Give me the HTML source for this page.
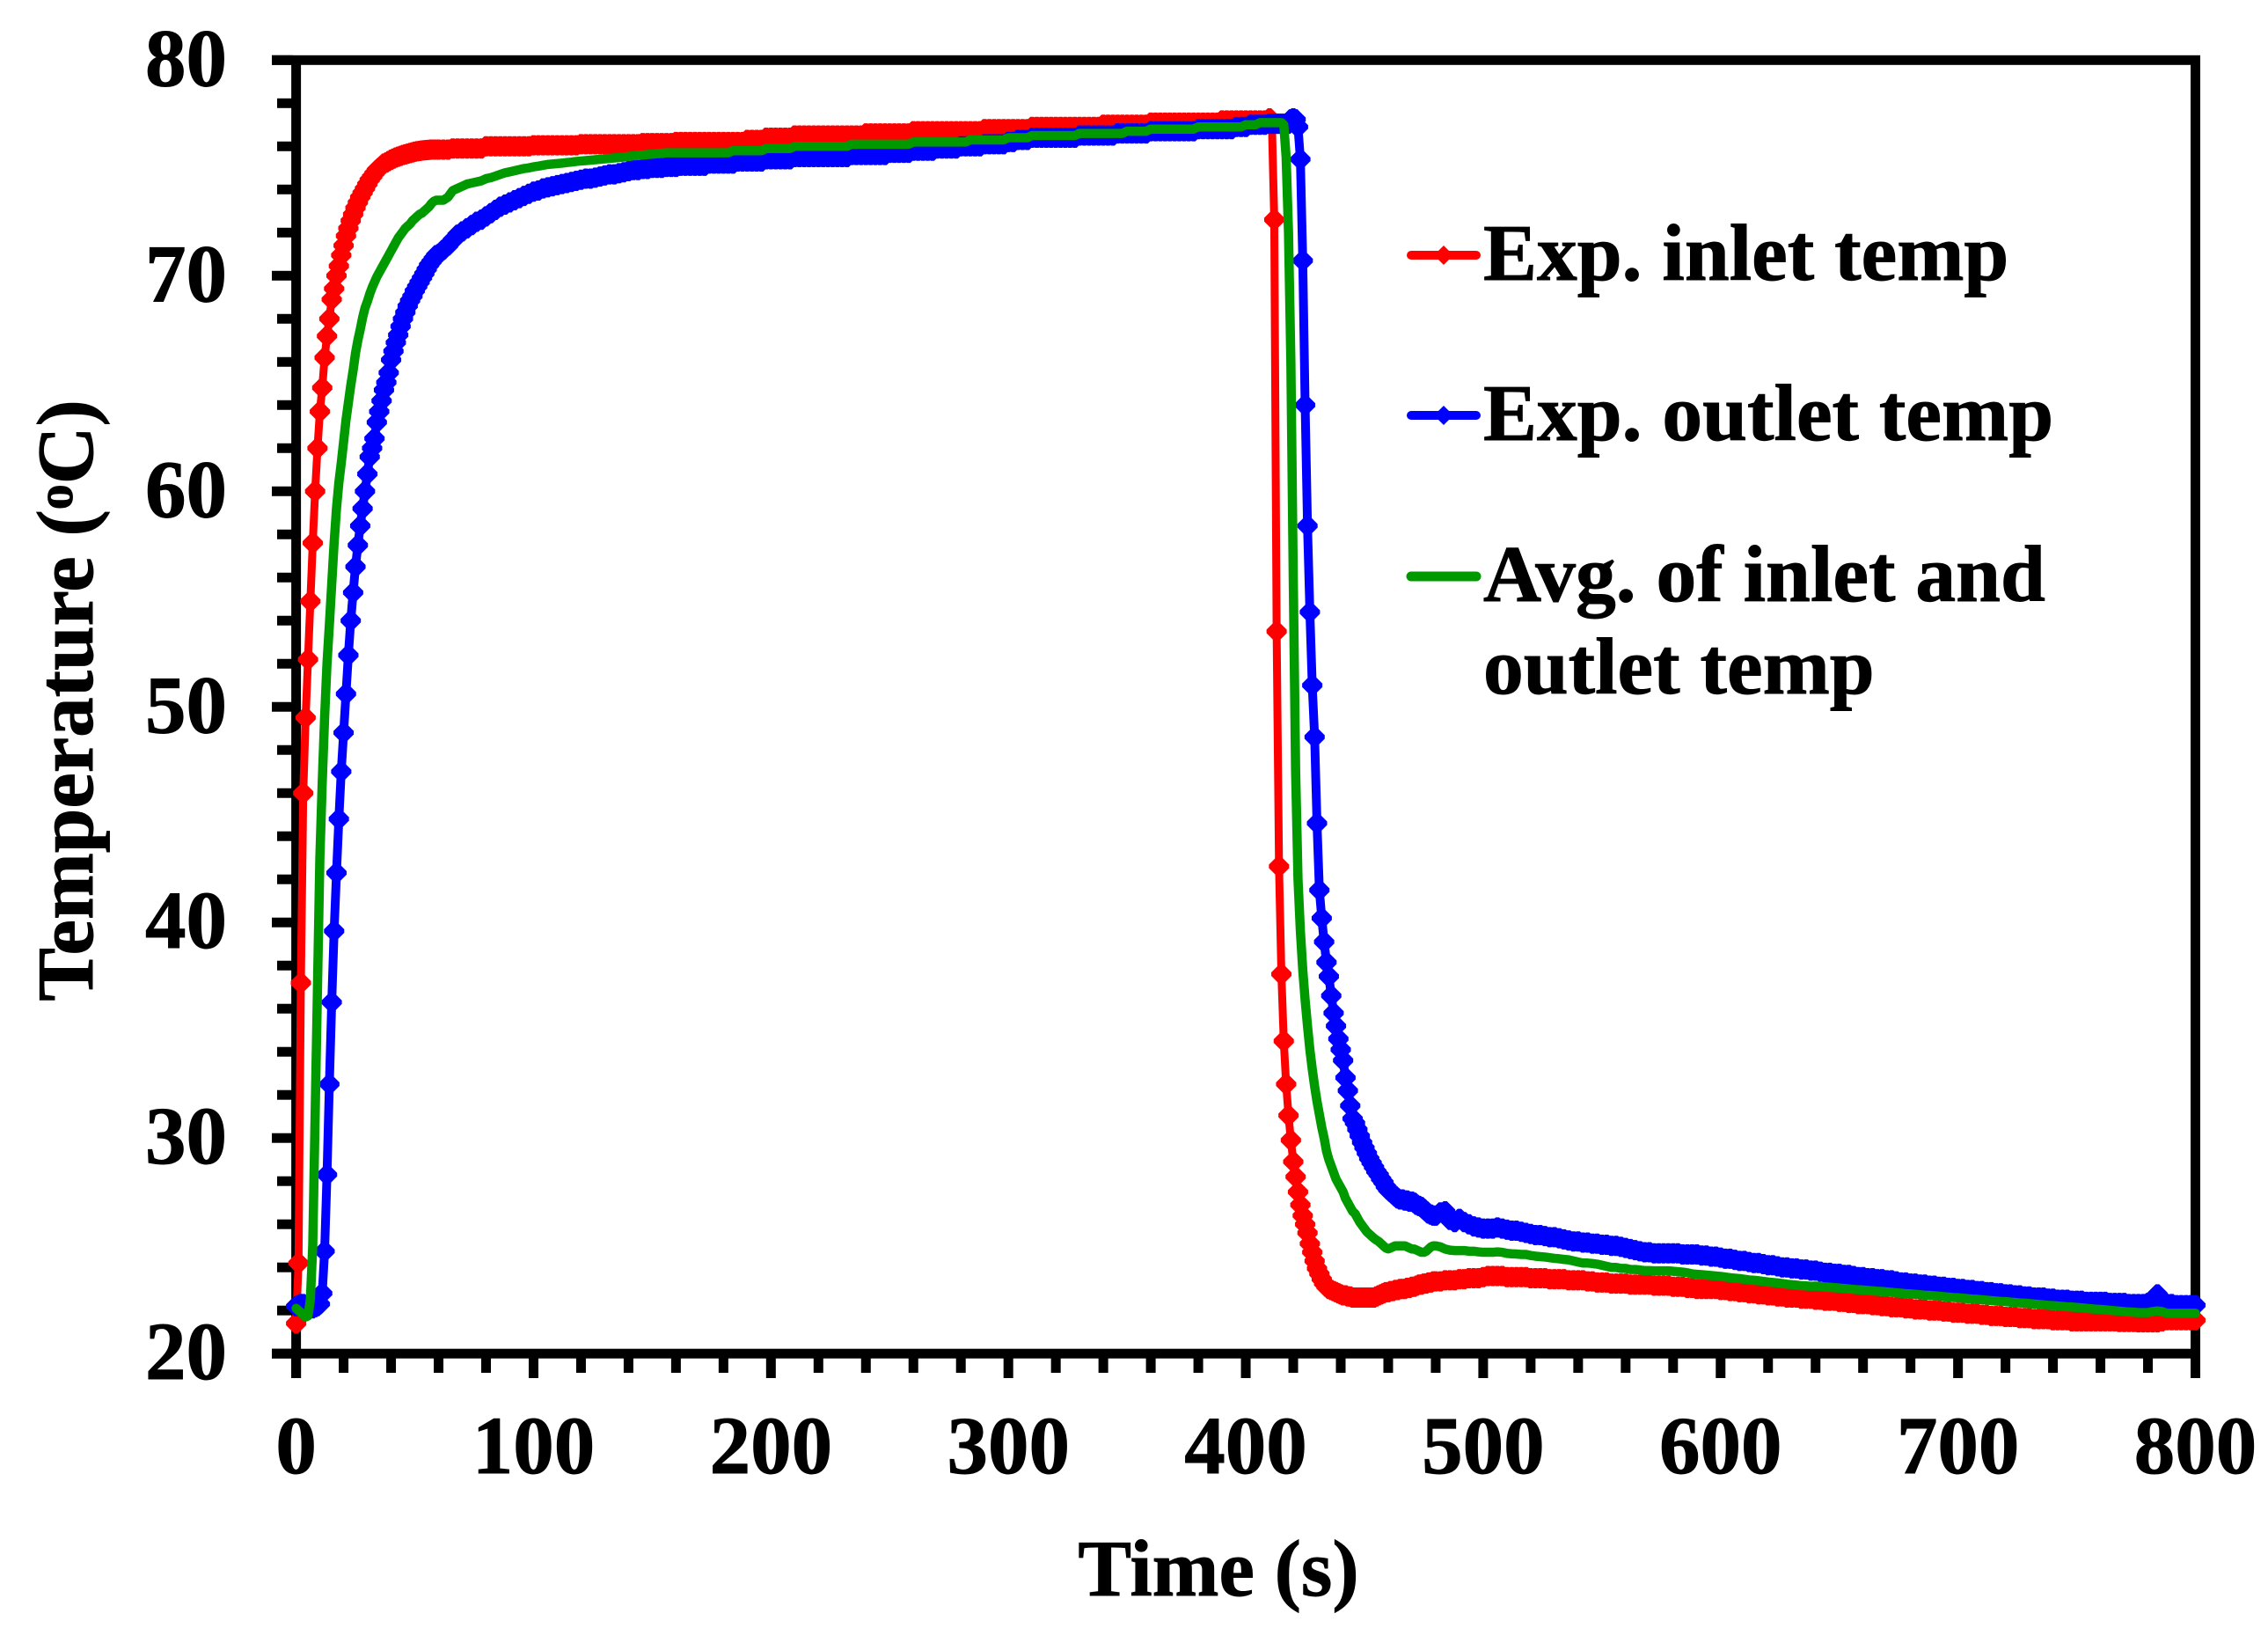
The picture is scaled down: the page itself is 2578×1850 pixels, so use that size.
<!DOCTYPE html>
<html lang="en">
<head>
<meta charset="utf-8">
<title>Temperature vs Time</title>
<style>
html,body{margin:0;padding:0;background:#fff;}
svg{display:block;}
text{font-family:"Liberation Serif",serif;font-weight:bold;fill:#000;stroke:#000;stroke-width:0.9px;}
</style>
</head>
<body>
<svg id="chart" xmlns="http://www.w3.org/2000/svg" width="2578" height="1850" viewBox="0 0 2578 1850">
<rect x="0" y="0" width="2578" height="1850" fill="#fff"/>
<g id="axes"></g>
<g id="series"></g>
<text x="1385" y="1813" font-size="91" text-anchor="middle">Time (s)</text>
<text transform="translate(105 796) rotate(-90)" font-size="91" text-anchor="middle">Temperature (<tspan font-size="58" dy="-23">o</tspan><tspan dy="23">C)</tspan></text>
<g>
<g>
<line x1="1604" y1="290" x2="1678" y2="290" stroke="#ff0000" stroke-width="10" stroke-linecap="round"/>
<polygon points="1630,290 1641,279 1652,290 1641,301" fill="#ff0000"/>
<text x="1686" y="318" font-size="91.5">Exp. inlet temp</text>
</g>
<g>
<line x1="1604" y1="472" x2="1678" y2="472" stroke="#0000ff" stroke-width="10" stroke-linecap="round"/>
<polygon points="1630,472 1641,461 1652,472 1641,483" fill="#0000ff"/>
<text x="1686" y="500" font-size="91.5">Exp. outlet temp</text>
</g>
<g>
<line x1="1604" y1="655" x2="1678" y2="655" stroke="#009900" stroke-width="11" stroke-linecap="round"/>
<text x="1686" y="683" font-size="91.5">Avg. of inlet and</text>
<text x="1686" y="788" font-size="91.5">outlet temp</text>
</g>
</g>
</svg>
<script>
const xTickLabels = [0,100,200,300,400,500,600,700,800];
const yTickLabels = [20,30,40,50,60,70,80];
const xMinorTicks = [20,40,60,80,120,140,160,180,220,240,260,280,320,340,360,380,420,440,460,480,520,540,560,580,620,640,660,680,720,740,760,780];
const yMinorTicks = [22,24,26,28,32,34,36,38,42,44,46,48,52,54,56,58,62,64,66,68,72,74,76,78];

const times = [
0,1,2,3,4,5,6,7,8,9,10,11,12,13,14,15,16,17,18,19,20,21,22,23,24,25,26,27,28,29,
30,31,32,33,34,35,36,37,38,39,40,41,42,43,44,45,46,47,48,49,50,51,52,53,54,55,56,57,58,59,
60,62,64,66,68,70,72,74,76,78,80,82,84,86,88,90,92,94,96,98,100,102,104,106,108,
110,112,114,116,118,120,122,124,126,128,130,132,134,136,138,140,142,144,146,148,150,152,154,156,158,
160,162,164,166,168,170,172,174,176,178,180,182,184,186,188,190,192,194,196,198,200,202,204,206,208,
210,212,214,216,218,220,222,224,226,228,230,232,234,236,238,240,242,244,246,248,250,252,254,256,258,
260,262,264,266,268,270,272,274,276,278,280,282,284,286,288,290,292,294,296,298,300,302,304,306,308,
310,312,314,316,318,320,322,324,326,328,330,332,334,336,338,340,342,344,346,348,350,352,354,356,358,
360,362,364,366,368,370,372,374,376,378,380,382,384,386,388,390,392,394,396,398,400,402,404,406,408,
410,411,412,413,414,415,416,417,418,419,420,421,422,423,424,425,426,427,428,429,430,431,432,433,434,435,436,437,438,439,
440,441,442,443,444,445,446,447,448,449,450,451,452,453,454,455,456,457,458,459,460,461,462,463,464,465,466,467,468,469,470,471,472,473,474,475,476,477,478,479,
480,482,484,486,488,490,492,494,496,498,500,502,504,506,508,510,512,514,516,518,
520,522,524,526,528,530,532,534,536,538,540,542,544,546,548,550,552,554,556,558,
560,562,564,566,568,570,572,574,576,578,580,582,584,586,588,590,592,594,596,598,
600,602,604,606,608,610,612,614,616,618,620,622,624,626,628,630,632,634,636,638,
640,642,644,646,648,650,652,654,656,658,660,662,664,666,668,670,672,674,676,678,
680,682,684,686,688,690,692,694,696,698,700,702,704,706,708,710,712,714,716,718,
720,722,724,726,728,730,732,734,736,738,740,742,744,746,748,750,752,754,756,758,
760,762,764,766,768,770,772,774,776,778,780,782,784,786,788,790,792,794,796,798,800
];

const inletTemp = [
21.4,24.2,37.2,46,49.5,52.2,54.9,57.6,60,62,
63.7,64.8,66.2,67.2,68,68.9,69.4,70,70.45,70.95,
71.4,71.85,72.2,72.55,72.85,73.15,73.4,73.65,73.85,74.05,
74.25,74.45,74.6,74.75,74.9,75,75.1,75.2,75.25,75.32,
75.38,75.43,75.48,75.52,75.56,75.6,75.63,75.66,75.69,75.72,
75.75,75.77,75.79,75.81,75.82,75.83,75.84,75.85,75.85,75.85,
75.85,75.85,75.85,75.9,75.9,75.9,75.9,75.9,75.9,75.9,76,76,76,76,76,76,76,76,76,76,76.05,76.05,76.05,76.05,76.05,
76.05,76.05,76.05,76.05,76.05,76.1,76.1,76.1,76.1,76.1,76.1,76.1,76.1,76.1,76.1,76.1,76.1,76.1,76.15,76.15,76.15,76.15,76.15,76.15,76.15,
76.2,76.2,76.2,76.2,76.2,76.2,76.2,76.2,76.2,76.2,76.2,76.2,76.2,76.2,76.2,76.3,76.3,76.3,76.3,76.4,76.4,76.4,76.4,76.4,76.4,
76.5,76.5,76.5,76.5,76.5,76.5,76.5,76.5,76.5,76.5,76.5,76.5,76.5,76.5,76.5,76.6,76.6,76.6,76.6,76.6,76.6,76.6,76.6,76.6,76.6,
76.7,76.7,76.7,76.7,76.7,76.7,76.7,76.7,76.7,76.7,76.7,76.7,76.7,76.7,76.7,76.8,76.8,76.8,76.8,76.8,76.8,76.8,76.8,76.8,76.8,
76.9,76.9,76.9,76.9,76.9,76.9,76.9,76.9,76.9,76.9,76.9,76.9,76.9,76.9,76.9,77,77,77,77,77,77,77,77,77,77,
77.1,77.1,77.1,77.1,77.1,77.1,77.1,77.1,77.1,77.1,77.1,77.1,77.1,77.1,77.1,77.2,77.2,77.2,77.2,77.2,77.2,77.2,77.2,77.2,77.2,
77.3,77.1,72.6,53.5,42.6,37.6,34.5,32.5,31.05,29.9,28.9,28.2,27.5,26.9,26.4,26,25.6,25.1,24.7,24.3,23.95,23.7,23.45,23.25,23.1,23,22.95,22.9,22.85,22.8,
22.75,22.7,22.7,22.65,22.65,22.6,22.6,22.6,22.6,22.6,22.6,22.6,22.6,22.6,22.6,22.65,22.7,22.75,22.8,22.85,22.85,22.9,22.9,22.95,22.95,23,23,23,23.05,23.05,23.1,23.1,23.15,23.2,23.2,23.25,23.25,23.3,23.3,23.35,
23.35,23.35,23.4,23.4,23.4,23.45,23.45,23.5,23.5,23.5,23.55,23.6,23.6,23.6,23.6,23.55,23.55,23.55,23.55,23.55,
23.5,23.5,23.5,23.5,23.45,23.45,23.45,23.45,23.4,23.4,23.4,23.4,23.35,23.35,23.3,23.3,23.3,23.25,23.25,23.25,
23.25,23.2,23.2,23.2,23.2,23.2,23.15,23.15,23.15,23.15,23.1,23.1,23.1,23.05,23.05,23,23,23,23,23,
22.95,22.95,22.9,22.9,22.85,22.85,22.8,22.8,22.75,22.75,22.7,22.7,22.65,22.65,22.6,22.6,22.6,22.55,22.55,22.55,
22.5,22.5,22.45,22.45,22.45,22.4,22.4,22.35,22.35,22.3,22.3,22.3,22.25,22.25,22.2,22.2,22.15,22.15,22.15,22.1,
22.1,22.05,22.05,22.05,22,22,22,21.95,21.95,21.9,21.9,21.9,21.85,21.85,21.85,21.8,21.8,21.75,21.75,21.75,
21.7,21.7,21.7,21.65,21.65,21.65,21.6,21.6,21.6,21.6,21.55,21.55,21.55,21.55,21.5,21.5,21.5,21.5,21.5,21.5,
21.5,21.5,21.5,21.5,21.47,21.47,21.47,21.47,21.45,21.45,21.45,21.45,21.45,21.5,21.55,21.55,21.55,21.55,21.55,21.55,21.55
];

const outletTemp = [
22.2,22.25,22.3,22.3,22.25,22.2,22.15,22.1,22.15,22.2,
22.3,22.8,24.75,28.3,32.5,36.3,39.6,42.3,44.8,47,
48.8,50.6,52.4,54,55.3,56.5,57.5,58.4,59.2,60,
60.8,61.6,62,62.45,63.2,63.7,64.2,64.7,65.05,65.5,
66.1,66.5,66.9,67.25,67.65,68,68.3,68.6,68.85,69.05,
69.3,69.5,69.7,69.9,70.1,70.3,70.5,70.65,70.8,70.95,
71,71.2,71.4,71.65,71.9,72.05,72.2,72.35,72.5,72.6,72.75,72.9,73.05,73.2,73.3,73.4,73.5,73.6,73.7,73.8,73.9,73.95,74.05,74.1,74.15,
74.2,74.25,74.3,74.35,74.4,74.45,74.5,74.5,74.55,74.6,74.65,74.7,74.7,74.75,74.8,74.85,74.9,74.9,74.95,74.95,75,75,75,75.05,75.05,
75.05,75.1,75.1,75.1,75.1,75.1,75.1,75.2,75.2,75.2,75.2,75.2,75.2,75.3,75.3,75.3,75.3,75.3,75.3,75.4,75.4,75.4,75.4,75.4,75.4,
75.5,75.5,75.5,75.5,75.5,75.5,75.5,75.5,75.5,75.5,75.5,75.5,75.6,75.6,75.6,75.6,75.6,75.6,75.6,75.6,75.7,75.7,75.7,75.7,75.7,
75.8,75.8,75.8,75.8,75.8,75.9,75.9,75.9,75.9,75.9,76,76,76,76,76,76.1,76.1,76.1,76.1,76.1,76.2,76.2,76.3,76.3,76.3,
76.4,76.4,76.4,76.4,76.4,76.4,76.4,76.4,76.4,76.4,76.5,76.5,76.5,76.5,76.5,76.5,76.5,76.5,76.6,76.6,76.6,76.6,76.6,76.6,76.6,
76.7,76.7,76.7,76.7,76.7,76.7,76.7,76.7,76.7,76.7,76.8,76.8,76.8,76.8,76.8,76.8,76.8,76.8,76.9,76.9,76.9,77,77,77,77,
77.05,77.05,77.05,77.05,77.05,77.05,77.05,77.05,77.05,77.25,77.3,77.25,76.9,75.4,70.7,64,58.4,54.4,51,48.6,44.6,41.5,40.2,39.1,38.15,37.5,36.6,35.8,35.2,34.6,
34.1,33.6,32.8,32.2,31.5,30.9,30.7,30.4,30.1,29.8,29.55,29.3,29.05,28.85,28.65,28.45,28.3,28.1,27.95,27.75,27.6,27.5,27.4,27.3,27.2,27.15,27.15,27.1,27.1,27.05,27.05,27,26.9,26.85,26.8,26.7,26.6,26.5,26.45,26.4,
26.4,26.55,26.6,26.2,26.1,26.25,26.1,26,25.9,25.85,25.8,25.8,25.8,25.85,25.8,25.75,25.7,25.7,25.65,25.6,
25.55,25.5,25.5,25.45,25.4,25.4,25.35,25.3,25.25,25.2,25.2,25.15,25.15,25.1,25.1,25.05,25.05,25,25,24.95,
24.9,24.85,24.8,24.75,24.7,24.7,24.65,24.65,24.65,24.65,24.65,24.65,24.6,24.6,24.6,24.6,24.55,24.55,24.5,24.5,
24.45,24.4,24.4,24.35,24.3,24.3,24.25,24.2,24.2,24.15,24.1,24.1,24.05,24,24,23.95,23.95,23.9,23.9,23.85,
23.85,23.8,23.75,23.75,23.7,23.7,23.65,23.65,23.6,23.55,23.55,23.5,23.5,23.45,23.45,23.4,23.4,23.35,23.3,23.3,
23.25,23.25,23.2,23.2,23.15,23.15,23.1,23.1,23.05,23.05,23,23,22.95,22.95,22.9,22.9,22.85,22.85,22.8,22.8,
22.75,22.75,22.7,22.7,22.65,22.65,22.6,22.6,22.6,22.55,22.55,22.5,22.5,22.5,22.45,22.45,22.45,22.4,22.4,22.4,
22.4,22.4,22.35,22.35,22.35,22.35,22.3,22.3,22.3,22.3,22.35,22.45,22.75,22.5,22.3,22.3,22.25,22.25,22.25,22.25,22.25
];

const averageTemp = [
22.1,22,21.9,21.8,21.7,21.75,22.5,25,31,37,
43,46.5,49.5,52,53.8,55.7,57.6,59.2,60.4,61.3,
62.3,63.3,64.1,64.9,65.6,66.4,67,67.5,68.05,68.5,
68.8,69.15,69.45,69.7,69.95,70.15,70.35,70.55,70.75,70.95,
71.15,71.35,71.55,71.75,71.9,72.05,72.2,72.3,72.4,72.55,
72.65,72.75,72.85,72.9,73,73.1,73.2,73.35,73.45,73.5,
73.5,73.5,73.65,73.95,74.05,74.15,74.25,74.3,74.35,74.4,74.5,74.55,74.62,74.7,74.77,74.82,74.87,74.92,74.97,75,75.05,75.08,75.12,75.16,75.18,
75.2,75.22,75.25,75.27,75.3,75.32,75.34,75.36,75.38,75.4,75.42,75.44,75.46,75.48,75.5,75.53,75.56,75.58,75.6,75.62,75.64,75.66,75.68,75.7,75.7,
75.7,75.7,75.7,75.7,75.7,75.7,75.7,75.7,75.7,75.7,75.7,75.7,75.8,75.8,75.8,75.8,75.8,75.8,75.8,75.9,75.9,75.9,75.9,75.9,75.9,
76,76,76,76,76,76,76,76,76,76,76,76,76.1,76.1,76.1,76.1,76.1,76.1,76.1,76.1,76.1,76.1,76.1,76.1,76.1,
76.2,76.2,76.2,76.2,76.2,76.2,76.2,76.2,76.2,76.2,76.2,76.2,76.3,76.3,76.3,76.3,76.3,76.3,76.3,76.3,76.4,76.4,76.4,76.4,76.4,
76.5,76.5,76.5,76.5,76.5,76.5,76.5,76.5,76.5,76.5,76.6,76.6,76.6,76.6,76.6,76.6,76.6,76.6,76.6,76.6,76.7,76.7,76.7,76.7,76.7,
76.8,76.8,76.8,76.8,76.8,76.8,76.8,76.8,76.8,76.8,76.9,76.9,76.9,76.9,76.9,76.9,76.9,76.9,76.9,76.9,77,77,77,77.1,77.1,
77.1,77.1,77.1,77.1,77.1,77.1,77,75.5,72,66,56,47,42,39.6,37.8,36.4,35.2,34.1,33.2,32.4,31.7,31.1,30.5,30,29.4,29,28.7,28.4,28.1,27.9,
27.7,27.5,27.2,27,26.8,26.6,26.5,26.3,26.1,25.95,25.8,25.65,25.55,25.45,25.35,25.27,25.2,25.1,25,24.9,24.86,24.9,24.95,25,25,25,25,25,24.95,24.9,24.85,24.85,24.8,24.75,24.7,24.7,24.75,24.85,24.95,25,
25,24.95,24.85,24.8,24.78,24.78,24.78,24.75,24.75,24.72,24.7,24.7,24.7,24.72,24.7,24.65,24.63,24.62,24.6,24.6,
24.55,24.52,24.5,24.48,24.45,24.42,24.4,24.37,24.35,24.3,24.25,24.2,24.2,24.18,24.15,24.1,24.05,24,24,23.95,
23.95,23.9,23.9,23.88,23.85,23.85,23.84,23.84,23.84,23.84,23.82,23.8,23.78,23.75,23.7,23.68,23.66,23.64,23.62,23.6,
23.58,23.55,23.52,23.5,23.48,23.45,23.42,23.4,23.38,23.35,23.32,23.3,23.28,23.25,23.22,23.2,23.18,23.15,23.14,23.12,
23.13,23.11,23.09,23.07,23.06,23.04,23.02,23,22.98,22.96,22.95,22.93,22.91,22.89,22.88,22.86,22.84,22.82,22.8,22.78,
22.77,22.75,22.73,22.71,22.7,22.68,22.66,22.64,22.62,22.6,22.59,22.57,22.55,22.53,22.52,22.5,22.48,22.46,22.44,22.42,
22.41,22.39,22.37,22.35,22.34,22.32,22.3,22.28,22.26,22.24,22.23,22.21,22.19,22.17,22.16,22.14,22.12,22.1,22.08,22.06,
22.05,22.03,22.01,21.99,21.97,21.95,21.93,21.92,21.9,21.9,21.9,21.95,21.98,21.95,21.87,21.87,21.87,21.87,21.87,21.87,21.87
];

const SVGNS = 'http://www.w3.org/2000/svg';
const xScale = v => 336.6 + (v - 0) * (2495.5 - 336.6) / 800;
const yScale = v => 1538.2 - (v - 20) * (1538.2 - 68.3) / 60;
const axesGroup = document.getElementById('axes');
const seriesGroup = document.getElementById('series');

function makeEl(tag, parent, attrs) {
  const el = document.createElementNS(SVGNS, tag);
  for (const k in attrs) el.setAttribute(k, attrs[k]);
  parent.appendChild(el);
  return el;
}
function hLine(x1, x2, y) { return makeEl('rect', axesGroup, {x: x1, y: y - 5.5, width: x2 - x1, height: 11, fill: '#000'}); }
function vLine(x, y1, y2) { return makeEl('rect', axesGroup, {x: x - 5.5, y: y1, width: 11, height: y2 - y1, fill: '#000'}); }

let frameEl = hLine(309, 2501, yScale(80));


frameEl = hLine(309, 2501, yScale(20));


frameEl = vLine(xScale(0), 63, 1566);


frameEl = vLine(xScale(800), 63, 1566);



yMinorTicks.forEach(v => {
  const t = hLine(315, 333, yScale(v));
  
  
});
xMinorTicks.forEach(v => {
  const t = vLine(xScale(v), 1540, 1560);
  
  
});
yTickLabels.forEach(v => {
  const t = hLine(309, 333, yScale(v));
  
  
  const label = makeEl('text', axesGroup, {x: 258, y: yScale(v) + 29, 'font-size': 93, 'text-anchor': 'end'});
  
  
  label.textContent = v;
});
xTickLabels.forEach(v => {
  const t = vLine(xScale(v), 1540, 1566);
  
  
  const label = makeEl('text', axesGroup, {x: xScale(v), y: 1674, 'font-size': 93, 'text-anchor': 'middle'});
  
  
  label.textContent = v;
});

function drawSeries(values, color, width, name, withMarkers) {
  const g = makeEl('g', seriesGroup, {});
  
  
  const n = Math.min(times.length, values.length);
  const pts = [];
  for (let i = 0; i < n; i++) pts.push(xScale(times[i]).toFixed(2) + ',' + yScale(values[i]).toFixed(2));
  const line = makeEl('polyline', g, {points: pts.join(' '), fill: 'none', stroke: color, 'stroke-width': width, 'stroke-linejoin': 'round', 'stroke-linecap': 'round'});
  
  
  if (withMarkers) {
    const r = 11.5, c = 2;
    for (let i = 0; i < n; i++) {
      const cx = xScale(times[i]), cy = yScale(values[i]);
      const shape = [[-r,-c],[-c,-r],[c,-r],[r,-c],[r,c],[c,r],[-c,r],[-r,c]];
      const m = makeEl('polygon', g, {points: shape.map(p => (cx + p[0]).toFixed(2) + ',' + (cy + p[1]).toFixed(2)).join(' '), fill: color});
      
      
    }
  }
}
drawSeries(inletTemp, '#ff0000', 9, 'inlet-temp', true);
drawSeries(outletTemp, '#0000ff', 10, 'outlet-temp', true);
drawSeries(averageTemp, '#009900', 10.5, 'average-temp', false);
</script>
</body>
</html>
